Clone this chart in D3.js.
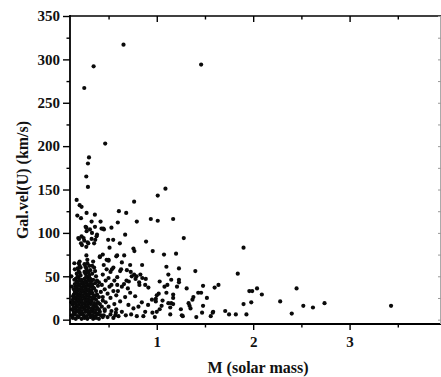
<!DOCTYPE html>
<html>
<head>
<meta charset="utf-8">
<script src="https://cdn.jsdelivr.net/npm/d3@7"></script>
<style>
  html, body { margin: 0; padding: 0; background: #fff; }
  svg text { font-family: "Liberation Serif", "Times New Roman", serif; font-weight: bold; fill: #111; }
</style>
</head>
<body>
<svg id="chart" width="441" height="377"></svg>
<script>
// Axis settings
const xMajorTicks = [1, 2, 3];
const xMinorTicks = [0.5, 1.5, 2.5, 3.5];
const yMajorTicks = [0, 50, 100, 150, 200, 250, 300, 350];
const yMinorTicks = [25, 75, 125, 175, 225, 275, 325];
const xLabel = "M (solar mass)";
const yLabel = "Gal.vel(U) (km/s)";

// Stars: [mass (solar masses), Galactic U velocity (km/s)]
const highVelocityStars = [
  [0.248,267],[0.345,292],[0.655,317],[1.46,294],[0.465,203],[0.297,187],[0.286,180],
  [0.269,165],[0.286,153],[1.09,151],[1.01,143],[0.169,138],[0.20,132],[0.22,130],
  [0.765,136],[0.607,125],[0.683,123],[0.176,120],[0.214,117],[0.272,123],[0.358,121],
  [0.324,113],[0.417,113],[0.596,112],[0.793,113],[0.938,116],[1.01,114],[1.17,116],
  [0.262,107],[0.445,105],[0.53,106],[0.359,107],[0.452,104],[0.27,106]
];

const lowMassCluster = [
  [0.13,2],[0.16,1],[0.19,3],[0.22,1],[0.25,2],[0.28,1],[0.31,3],[0.34,1],[0.37,2],[0.40,1],[0.44,3],
  [0.12,5],[0.15,6],[0.18,4],[0.21,6],[0.24,5],[0.27,4],[0.30,6],[0.33,5],[0.36,4],[0.39,6],[0.42,5],
  [0.14,8],[0.17,9],[0.20,8],[0.23,7],[0.26,9],[0.29,8],[0.32,9],[0.35,8],[0.38,7],[0.41,9],
  [0.13,11],[0.16,12],[0.19,11],[0.22,10],[0.25,12],[0.28,11],[0.31,10],[0.34,12],[0.37,11],[0.40,12],[0.46,10],
  [0.14,14],[0.17,15],[0.20,13],[0.23,14],[0.26,15],[0.29,14],[0.32,13],[0.35,15],[0.38,14],[0.43,15],
  [0.13,17],[0.16,18],[0.19,17],[0.22,16],[0.25,18],[0.28,17],[0.31,18],[0.34,16],[0.37,17],[0.41,18],
  [0.14,20],[0.17,21],[0.20,20],[0.23,19],[0.26,21],[0.29,20],[0.32,21],[0.35,19],[0.39,20],
  [0.13,23],[0.16,24],[0.19,23],[0.22,22],[0.25,24],[0.28,23],[0.31,22],[0.34,24],[0.37,23],[0.44,22],
  [0.15,26],[0.18,27],[0.21,25],[0.24,26],[0.27,27],[0.30,26],[0.33,25],[0.36,27],[0.40,26],
  [0.14,29],[0.17,30],[0.20,29],[0.23,28],[0.26,30],[0.29,29],[0.32,30],[0.35,28],[0.38,29],
  [0.15,32],[0.18,33],[0.21,31],[0.24,32],[0.27,33],[0.30,32],[0.33,31],[0.37,33],[0.42,32],
  [0.14,35],[0.17,36],[0.20,35],[0.23,34],[0.26,36],[0.29,35],[0.32,34],[0.35,36],
  [0.16,38],[0.19,39],[0.22,37],[0.25,38],[0.28,39],[0.31,38],[0.34,37],[0.39,39],
  [0.15,41],[0.18,42],[0.21,41],[0.24,40],[0.27,42],[0.30,41],[0.33,40],[0.36,42],
  [0.17,44],[0.20,45],[0.23,43],[0.26,44],[0.29,45],[0.32,44],[0.40,43],
  [0.16,47],[0.19,48],[0.22,46],[0.25,47],[0.28,48],[0.31,47],[0.34,46],
  [0.18,50],[0.21,51],[0.27,50],[0.30,51],[0.37,50],
  [0.17,53],[0.20,54],[0.26,53],[0.29,54],[0.33,53],
  [0.19,56],[0.25,55],[0.28,56],[0.31,57],
  [0.18,59],[0.21,60],[0.27,59],[0.35,60],
  [0.20,62],[0.26,61],[0.30,62],
  [0.19,65],[0.25,64],[0.28,65],
  [0.114,50],[0.145,46],[0.13,27],[0.145,65],[0.20,67],[0.27,74],[0.34,67],[0.41,73],
  [0.28,69],[0.45,63],[0.41,72],[0.50,69],[0.48,69],
  [0.36,56],[0.15,58],[0.33,62],[0.38,45],[0.12,38],[0.115,20],[0.12,12]
];

const intermediateStars = [
  [0.186,94],[0.22,96],[0.248,91],[0.272,102],[0.307,104],[0.324,93],[0.375,96],[0.427,105],
  [0.214,88],[0.29,88],[0.35,88],[0.496,92],[0.548,92],[0.193,93],[0.241,94],[0.283,89],
  [0.328,100],[0.38,98],[0.224,86],[0.269,84],[0.362,92],[0.51,83],[0.44,75],[0.58,73],[0.50,68],
  [0.672,98],[0.617,88],[0.889,90],[0.758,82],[0.768,79],[0.958,79],[1.075,75],[0.589,74],
  [0.662,74],[0.638,66],[0.724,63],[0.848,63],[1.10,61],[1.20,76],[1.28,94],[1.23,59],[1.40,56],
  [0.69,57],[0.62,56],[0.535,58],[0.74,50],
  [0.44,52],[0.47,45],[0.50,48],[0.53,40],[0.46,35],[0.49,30],[0.52,25],[0.55,33],[0.58,28],
  [0.47,20],[0.50,15],[0.53,10],[0.56,18],[0.45,5],[0.49,3],[0.52,6],[0.55,2],[0.58,12],
  [0.44,26],[0.48,58],[0.52,55],[0.56,45],[0.59,40],[0.55,60],[0.51,38],[0.46,12],[0.43,40],[0.57,5],
  [0.73,55],[0.765,52],[0.79,50],[0.83,52],[0.63,58],[0.59,49],[0.686,45],[0.817,43],[0.88,40],
  [0.913,37],[1.03,44],[1.12,52],[1.11,40],[1.08,38],[1.10,31],[1.02,30],[0.99,24],[0.99,21],
  [1.05,16],[1.12,19],[1.14,14],[0.95,23],[0.91,17],[0.845,20],[0.776,27],[0.724,31],[0.70,36],
  [0.638,38],[0.597,33],[0.672,26],[0.62,21],[0.706,17],[0.758,13],[0.81,15],[0.88,9],[0.638,9],
  [0.679,5],[0.734,6],[0.793,4],[0.861,4],[0.576,8],[0.603,4],[1.14,6],[1.00,9],[0.955,8],
  [0.78,47],[0.66,41],[0.71,44],[0.85,48],[0.886,47],[0.82,40],[0.98,3],[1.03,12],[1.06,22],[1.00,28]
];

const highMassStars = [
  [1.15,46],[1.23,46],[1.23,43],[1.21,38],[1.31,36],[1.17,29],[1.17,25],[1.15,19],[1.17,18],
  [1.25,12],[1.26,5],[1.27,4],[1.34,16],[1.37,23],[1.38,26],[1.33,19],[1.35,13],[1.43,31],
  [1.46,31],[1.48,39],[1.52,25],[1.48,16],[1.41,3],[1.47,8],[1.58,8],[1.56,4],[1.585,9],
  [1.60,37],[1.64,40],[1.71,10],[1.75,6],[1.82,6],[1.84,53],[1.90,18],[1.90,83],[1.93,6],
  [1.96,33],[1.99,33],[1.98,20],[2.04,36],[2.09,29],[2.28,21],[2.40,7],[2.45,36],[2.52,16],
  [2.62,14],[2.74,19],[3.43,16]
];

const allStars = [...highVelocityStars, ...lowMassCluster, ...intermediateStars, ...highMassStars];

const svg = d3.select("#chart");
const plot = { left: 70, right: 446, top: 16, bottom: 324 };

const x = d3.scaleLinear().domain([0.1, 4.0]).range([plot.left, plot.right]);
const y = d3.scaleLinear().domain([-5, 350]).range([plot.bottom, plot.top]);

// Points
svg.append("g")
  .selectAll("circle")
  .data(allStars)
  .join("circle")
  .attr("cx", d => x(d[0]))
  .attr("cy", d => y(d[1]))
  .attr("r", 2.1)
  .attr("fill", "#0a0a0a");

// Frame lines
const frame = svg.append("g").attr("stroke", "#000").attr("fill", "none");
frame.append("line").attr("x1", plot.left).attr("x2", plot.left).attr("y1", plot.top - 1).attr("y2", plot.bottom + 1).attr("stroke-width", 1.8);
frame.append("line").attr("x1", plot.left).attr("x2", 441).attr("y1", plot.bottom).attr("y2", plot.bottom).attr("stroke-width", 1.8);
frame.append("line").attr("x1", plot.left).attr("x2", 441).attr("y1", plot.top).attr("y2", plot.top).attr("stroke-width", 1.5);
frame.append("line").attr("x1", 440.5).attr("x2", 440.5).attr("y1", plot.top).attr("y2", plot.bottom).attr("stroke", "#aaa").attr("stroke-width", 1);

// Ticks
function styleAxis(g) {
  g.select(".domain").remove();
  g.selectAll(".tick line").attr("stroke", "#000").attr("stroke-width", 1.4);
  g.selectAll(".tick text").attr("font-size", 15).attr("fill", "#111");
}

svg.append("g").attr("transform", `translate(${plot.left},0)`)
  .call(d3.axisLeft(y).tickValues(yMajorTicks).tickSize(7).tickPadding(3).tickFormat(d3.format("d")))
  .call(styleAxis);
svg.append("g").attr("transform", `translate(${plot.left},0)`)
  .call(d3.axisLeft(y).tickValues(yMinorTicks).tickSize(3.5).tickFormat(""))
  .call(styleAxis);

svg.append("g").attr("transform", `translate(0,${plot.bottom})`)
  .call(d3.axisBottom(x).tickValues(xMajorTicks).tickSize(6).tickPadding(6).tickFormat(d3.format("d")))
  .call(styleAxis);
svg.append("g").attr("transform", `translate(0,${plot.bottom})`)
  .call(d3.axisBottom(x).tickValues(xMinorTicks).tickSize(3.5).tickFormat(""))
  .call(styleAxis);

// Mirrored ticks on the top edge pointing into the plot
svg.append("g").attr("transform", `translate(0,${plot.top})`)
  .call(d3.axisBottom(x).tickValues(xMajorTicks).tickSize(6).tickFormat(""))
  .call(styleAxis);
svg.append("g").attr("transform", `translate(0,${plot.top})`)
  .call(d3.axisBottom(x).tickValues(xMinorTicks).tickSize(3.5).tickFormat(""))
  .call(styleAxis);

// Right edge ticks (faint)
svg.append("g").attr("transform", `translate(441,0)`)
  .call(d3.axisLeft(y).tickValues(yMajorTicks.concat(yMinorTicks)).tickSize(3).tickFormat(""))
  .call(g => { g.select(".domain").remove(); g.selectAll(".tick line").attr("stroke", "#999"); });

// Axis titles
svg.append("text")
  .attr("x", 258).attr("y", 373)
  .attr("text-anchor", "middle")
  .attr("font-size", 16)
  .text(xLabel);

svg.append("text")
  .attr("transform", "translate(28,180) rotate(-90)")
  .attr("text-anchor", "middle")
  .attr("font-size", 16)
  .text(yLabel);
</script>
</body>
</html>
